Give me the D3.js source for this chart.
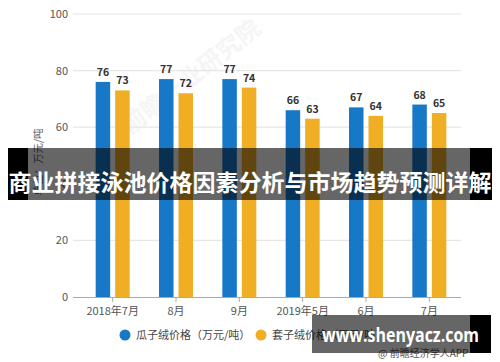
<!DOCTYPE html>
<html>
<head>
<meta charset="utf-8">
<script src="https://cdn.jsdelivr.net/npm/d3@7"></script>
<style>
  body { margin: 0; background: #fff; }
  svg { display: block; font-family: "Noto Sans CJK SC", "Noto Sans", sans-serif; }
</style>
</head>
<body>
<svg id="chart" width="500" height="362"></svg>
<script>
const width = 500;
const height = 362;

const months = ["2018年7月", "8月", "9月", "2019年5月", "6月", "7月"];
const guaziPrice = [76, 77, 77, 66, 67, 68];
const taoziPrice = [73, 72, 74, 63, 64, 65];
const yTicks = [0, 20, 40, 60, 80, 100];
const seriesNames = ["瓜子绒价格（万元/吨）", "套子绒价格（万元/吨）"];
const colors = ["#1878c8", "#f0ae24"];

const svg = d3.select('#chart');

const x = d3.scaleBand().domain(months).range([81, 461]);
const y = d3.scaleLinear().domain([0, 100]).range([297, 14]);

// faint watermark
svg.append('text')
    .attr('transform', 'translate(130,135) rotate(-38)')
    .attr('font-size', 24)
    .attr('font-weight', 'bold')
    .attr('fill', '#f5f5f5')
    .text('前瞻产业研究院');

// gridlines
svg.append('g')
    .selectAll('line')
    .data(yTicks.filter(d => d > 0))
    .enter().append('line')
    .attr('x1', 73).attr('x2', 461)
    .attr('y1', d => y(d)).attr('y2', d => y(d))
    .attr('stroke', '#e6e6e6')
    .attr('stroke-width', 1.2);

// y labels
svg.append('g')
    .selectAll('text')
    .data(yTicks)
    .enter().append('text')
    .attr('x', 68)
    .attr('y', d => y(d) + 4)
    .attr('text-anchor', 'end')
    .attr('font-size', 11)
    .attr('fill', '#555')
    .text(d => d);

// y title
svg.append('text')
    .attr('transform', 'translate(42,162) rotate(-90)')
    .attr('text-anchor', 'middle')
    .attr('font-size', 10.5)
    .attr('fill', '#666')
    .text('单位：万元/吨');

// x axis
const xAxis = svg.append('g')
    .attr('transform', `translate(0,${y(0)})`)
    .call(d3.axisBottom(x).tickSize(5).tickSizeOuter(0));
xAxis.select('.domain').attr('stroke', '#aaa').attr('d', 'M73,0.5H461');
xAxis.selectAll('.tick line').attr('stroke', '#aaa');
xAxis.selectAll('.tick text')
    .attr('font-size', 11)
    .attr('fill', '#555')
    .attr('font-family', '"Noto Sans CJK SC", sans-serif')
    .attr('dy', '0.9em');

// bars
const barW = 14.5;
const gap = 2.5;
const groups = [guaziPrice, taoziPrice];

groups.forEach((vals, i) => {
    const off = i === 0 ? -gap - barW : gap;
    svg.append('g')
        .selectAll('rect')
        .data(vals)
        .enter().append('rect')
        .attr('x', (d, j) => x(months[j]) + x.bandwidth() / 2 + off)
        .attr('y', d => y(d))
        .attr('width', barW)
        .attr('height', d => y(0) - y(d))
        .attr('fill', colors[i]);

    svg.append('g')
        .selectAll('text')
        .data(vals)
        .enter().append('text')
        .attr('x', (d, j) => x(months[j]) + x.bandwidth() / 2 + off + barW / 2)
        .attr('y', d => y(d) - 6)
        .attr('text-anchor', 'middle')
        .attr('font-size', 10.5)
        .attr('font-weight', 'bold')
        .attr('fill', '#333')
        .text(d => d);
});

// legend
const legendX = [125, 261];
seriesNames.forEach((name, i) => {
    svg.append('circle')
        .attr('cx', legendX[i]).attr('cy', 335)
        .attr('r', 5.5)
        .attr('fill', colors[i]);
    svg.append('text')
        .attr('x', legendX[i] + 11).attr('y', 339)
        .attr('font-size', 11)
        .attr('fill', '#444')
        .text(name);
});

// source
svg.append('text')
    .attr('x', 378).attr('y', 357)
    .attr('font-size', 10)
    .attr('fill', '#555')
    .text('@ 前瞻经济学人APP');

// title banner
svg.append('rect').attr('x', 8).attr('y', 148).attr('width', 484).attr('height', 52)
    .attr('fill', 'rgba(0,0,0,0.6)');
svg.append('rect').attr('x', 8).attr('y', 148).attr('width', 20).attr('height', 52).attr('fill', '#000');
svg.append('rect').attr('x', 470).attr('y', 148).attr('width', 22).attr('height', 52).attr('fill', '#000');
svg.append('text')
    .attr('x', 250).attr('y', 191)
    .attr('text-anchor', 'middle')
    .attr('font-size', 23)
    .attr('font-weight', 'bold')
    .attr('fill', '#fff')
    .text('商业拼接泳池价格因素分析与市场趋势预测详解');

// url banner
svg.append('rect').attr('x', 312).attr('y', 315).attr('width', 179).attr('height', 38)
    .attr('fill', 'rgba(0,0,0,0.6)');
svg.append('rect').attr('x', 470).attr('y', 315).attr('width', 21).attr('height', 38).attr('fill', '#000');
svg.append('text')
    .attr('x', 322).attr('y', 342)
    .attr('font-size', 19)
    .attr('font-weight', 'bold')
    .attr('font-family', '"Open Sans", "Liberation Sans", sans-serif')
    .attr('textLength', 157)
    .attr('lengthAdjust', 'spacingAndGlyphs')
    .attr('fill', '#fff')
    .text('www.shenyacz.com');
</script>
</body>
</html>
